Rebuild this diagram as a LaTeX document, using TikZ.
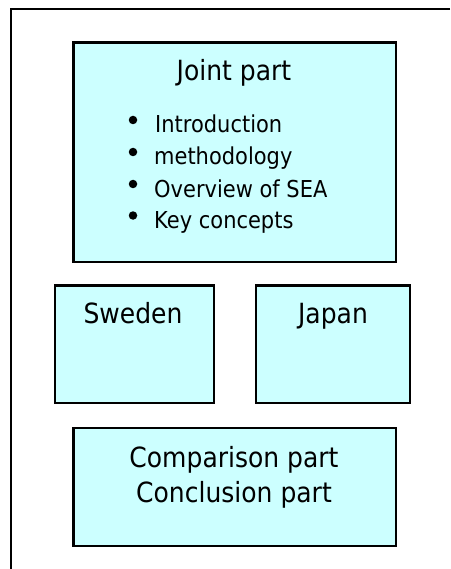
\documentclass[tikz,border=0pt]{standalone}
\usepackage{fontspec}
\setmainfont{DejaVu Sans}[FakeStretch=0.9]
\definecolor{boxfill}{HTML}{CCFFFF}
\begin{document}
\begin{tikzpicture}[x=1pt,y=-1pt,
  panel/.style={draw=black, line width=2.2pt, fill=boxfill, inner sep=0pt, rectangle},
  bigtext/.style={anchor=base, inner sep=0pt, font=\fontsize{27.8}{33}\selectfont},
  itemtext/.style={anchor=base west, inner sep=0pt, font=\fontsize{23.3}{28}\selectfont},
  dot/.style={circle, fill=black, inner sep=0pt, minimum size=8.5pt}]
\useasboundingbox (0,0) rectangle (450,569);
% outer frame (top and left edges visible)
\coordinate (fa) at (450,9);
\coordinate (fb) at (11,9);
\coordinate (fc) at (11,569);
\draw[line width=2pt] (fa) -- (fb) -- (fc);
% boxes
\node[panel, minimum width=322.5pt, minimum height=219.5pt] (joint) at (234.75,152.25) {};
\node[panel, minimum width=158.5pt, minimum height=117.5pt] (sweden) at (134.5,344.25) {};
\node[panel, minimum width=154pt, minimum height=117.5pt] (japan) at (333,344.25) {};
\node[panel, minimum width=322.5pt, minimum height=118pt] (comp) at (234.75,487) {};
% texts
\node[bigtext] (jt) at (234,81) {Joint part};
\node[dot] (b1) at (133,120) {};
\node[dot] (b2) at (133,152) {};
\node[dot] (b3) at (133,184) {};
\node[dot] (b4) at (133,215.5) {};
\node[itemtext] (i1) at (155,133) {Introduction};
\node[itemtext] (i2) at (154,165) {methodology};
\node[itemtext] (i3) at (154,197) {Overview of SEA};
\node[itemtext] (i4) at (154,228.5) {Key concepts};
\node[bigtext] (st) at (133,323) {Sweden};
\node[bigtext] (jpt) at (333,323) {Japan};
\node[bigtext] (ct1) at (234,467) {Comparison part};
\node[bigtext] (ct2) at (234,502) {Conclusion part};
\end{tikzpicture}
\end{document}
